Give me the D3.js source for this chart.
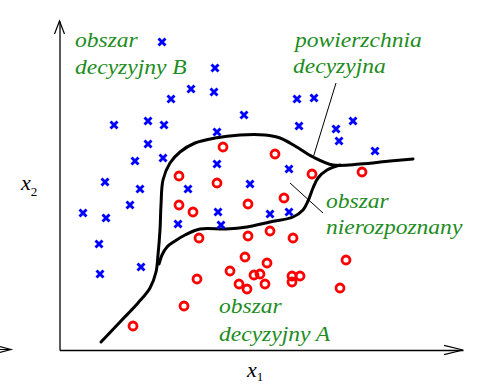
<!DOCTYPE html>
<html><head><meta charset="utf-8">
<script src="https://cdn.jsdelivr.net/npm/d3@7"></script>
<style>html,body{margin:0;padding:0;background:#fff;}svg{display:block;}</style>
</head><body>
<svg id="c" width="478" height="385"></svg>
<script>
// Data (feature-space coordinates, x1 horizontal, x2 vertical)
const classB_x1 = [102,155,131,154,111,54,88,104,184,157,88,75,103,157,45,80,128,190,70,23,46,158,118,161,39,81,40,237,254,239,276,293,279,315,229,210,229];
const classB_x2 = [308,282,261,258,251,225,229,225,235,218,206,189,192,186,168,161,161,166,145,137,132,138,126,125,106,83,76,251,252,224,221,229,209,199,181,136,138];
const classA_x1 = [163,215,119,157,252,302,119,133,188,224,139,188,210,233,185,207,286,170,137,194,200,232,240,179,187,205,232,280,124,73];
const classA_x2 = [203,196,174,167,176,178,145,138,146,152,112,114,119,112,93,87,90,79,71,75,76,74,74,66,61,66,68,62,44,24];
// outer decision boundary (separates region B)
const outer_x1 = [41,60,78,90,96,98,100,101,103,110,120,135,155,180,205,220,235,253,273,300,330,353];
const outer_x2 = [8,28,47,62,78,95,120,145,170,187,198,207,212,215,215,212,204,193,185,186,189,191];
// inner decision boundary (separates region A)
const inner_x1 = [99,102,107,115,125,140,166,187,210,233,243,248,253,258,267,280];
const inner_x2 = [86,95,103,109,115,121,121,123,128,133,140,149,162,172,180,185];
// annotation leader lines
const leaderSurface = [[276,267],[253,192]];
const leaderUnrecog = [[230,167],[263,137]];
const labels = [
  {text:"obszar", x:15, y:303},
  {text:"decyzyjny B", x:15, y:276},
  {text:"powierzchnia", x:235, y:303},
  {text:"decyzyjna", x:233, y:277},
  {text:"obszar", x:266, y:142},
  {text:"nierozpoznany", x:266, y:116},
  {text:"obszar", x:159, y:37},
  {text:"decyzyjny A", x:159, y:9}
];

const svg = d3.select("#c");
const x = d3.scaleLinear().domain([0,400]).range([60,460]);
const y = d3.scaleLinear().domain([0,330]).range([350,20]);

// axes (no ticks, only the domain lines)
const xAxisScale = d3.scaleLinear().domain([-0.5,403]).range([x(-0.5), x(403)]);
const yAxisScale = d3.scaleLinear().domain([0,329]).range([y(0), y(329)]);
svg.append("g").attr("transform",`translate(0,${y(0)})`)
  .call(d3.axisBottom(xAxisScale).tickValues([]).tickSizeOuter(0))
  .select(".domain").attr("stroke","#000").attr("stroke-width",1.3);
svg.append("g").attr("transform",`translate(${x(-0.5)},0)`)
  .call(d3.axisLeft(yAxisScale).tickValues([]).tickSizeOuter(0))
  .select(".domain").attr("stroke","#000").attr("stroke-width",1.3);

// arrowheads
const ax = svg.append("g").attr("stroke","#000").attr("stroke-width",1.2).attr("fill","none");
const xt = [x(403), y(0)];
ax.append("path").attr("d",`M${xt[0]-19},${xt[1]-4.7}L${xt[0]},${xt[1]}L${xt[0]-19},${xt[1]+4.7}`);
const yt = [x(-0.5), y(329)];
ax.append("path").attr("d",`M${yt[0]-5},${yt[1]+13}L${yt[0]},${yt[1]}L${yt[0]+5},${yt[1]+13}`);
// partially visible arrow at far left
ax.append("path").attr("d",`M-8,344.5L11,349.5L-8,354.5M0,349.5L11,349.5`);

// boundaries
const line = d3.line().x(d=>x(d[0])).y(d=>y(d[1])).curve(d3.curveCatmullRom.alpha(0.5));
const outerPts = outer_x1.map((v,i)=>[v,outer_x2[i]]);
const innerPts = inner_x1.map((v,i)=>[v,inner_x2[i]]);
svg.append("path").attr("d",line(outerPts)).attr("fill","none").attr("stroke","#000").attr("stroke-width",3).attr("stroke-linecap","round");
svg.append("path").attr("d",line(innerPts)).attr("fill","none").attr("stroke","#000").attr("stroke-width",3).attr("stroke-linecap","round");

// leader lines
[leaderSurface, leaderUnrecog].forEach(l=>{
  svg.append("line").attr("x1",x(l[0][0])).attr("y1",y(l[0][1])).attr("x2",x(l[1][0])).attr("y2",y(l[1][1]))
    .attr("stroke","#000").attr("stroke-width",1);
});

// class A points (red circles)
svg.append("g").selectAll("circle").data(classA_x1.map((v,i)=>[v,classA_x2[i]])).join("circle")
  .attr("cx",d=>x(d[0])).attr("cy",d=>y(d[1])).attr("r",4)
  .attr("fill","none").attr("stroke","#ff0000").attr("stroke-width",2.8);

// class B points (blue crosses)
const s = 3.5;
svg.append("g").selectAll("path").data(classB_x1.map((v,i)=>[v,classB_x2[i]])).join("path")
  .attr("d",d=>{const cx=x(d[0]), cy=y(d[1]); return `M${cx-s},${cy-s}L${cx+s},${cy+s}M${cx-s},${cy+s}L${cx+s},${cy-s}`;})
  .attr("stroke","#0000ff").attr("stroke-width",2.9).attr("fill","none");

// region labels
svg.append("g").selectAll("text").data(labels).join("text")
  .attr("x",d=>x(d.x)).attr("y",d=>y(d.y)).text(d=>d.text)
  .attr("font-family","Liberation Serif").attr("font-style","italic")
  .attr("font-size",21).attr("fill","#1e8c1e")
  .each(function(){
    const w = this.getComputedTextLength();
    d3.select(this).attr("textLength", w*1.12).attr("lengthAdjust","spacingAndGlyphs");
  });

// axis titles
const t1 = svg.append("text").attr("x",x(187)).attr("y",377)
  .attr("font-family","Liberation Serif").attr("font-size",22);
t1.append("tspan").attr("font-style","italic").text("x");
t1.append("tspan").attr("font-size",13).attr("dy",4).text("1");
const t2 = svg.append("text").attr("x",21).attr("y",y(160))
  .attr("font-family","Liberation Serif").attr("font-size",22);
t2.append("tspan").attr("font-style","italic").text("x");
t2.append("tspan").attr("font-size",13).attr("dy",6).text("2");
</script>
</body></html>
